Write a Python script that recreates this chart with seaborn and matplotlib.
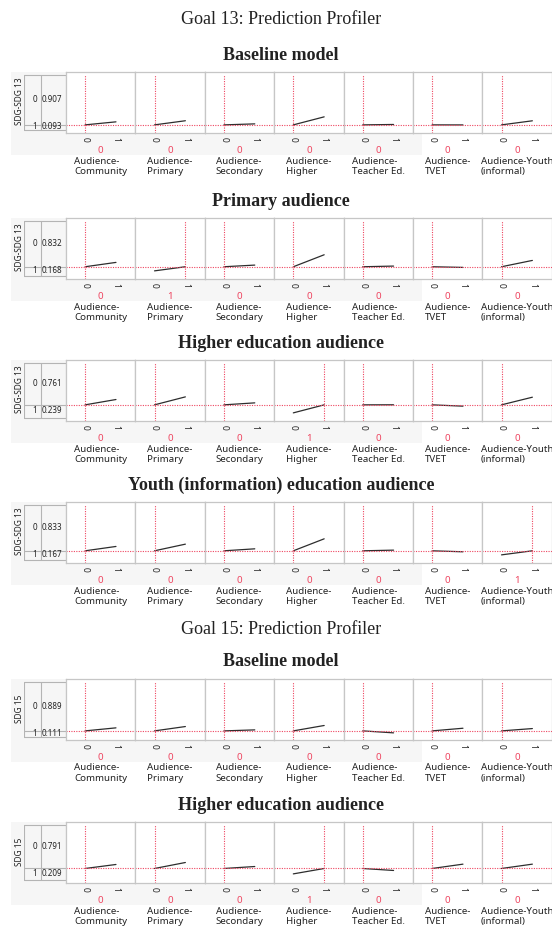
import matplotlib
matplotlib.use("Agg")
import matplotlib.pyplot as plt
from matplotlib.patches import Rectangle
import seaborn as sns
import pandas as pd

# factor names under each profiler cell
factors = [
    "Audience-\nCommunity",
    "Audience-\nPrimary",
    "Audience-\nSecondary",
    "Audience-\nHigher",
    "Audience-\nTeacher Ed.",
    "Audience-\nTVET",
    "Audience-Youth\n(informal)",
]

# Goal 13, baseline model
g13_base_setting = [0, 0, 0, 0, 0, 0, 0]
g13_base_p0 = [0.093, 0.093, 0.093, 0.093, 0.093, 0.093, 0.093]
g13_base_p1 = [0.148, 0.168, 0.111, 0.239, 0.100, 0.092, 0.167]
g13_base_table = [0.907, 0.093]

# Goal 13, primary audience
g13_prim_setting = [0, 1, 0, 0, 0, 0, 0]
g13_prim_p0 = [0.168, 0.093, 0.168, 0.168, 0.168, 0.168, 0.168]
g13_prim_p1 = [0.247, 0.168, 0.198, 0.386, 0.180, 0.156, 0.283]
g13_prim_table = [0.832, 0.168]

# Goal 13, higher education audience
g13_high_setting = [0, 0, 0, 1, 0, 0, 0]
g13_high_p0 = [0.239, 0.239, 0.239, 0.093, 0.239, 0.239, 0.239]
g13_high_p1 = [0.336, 0.384, 0.275, 0.239, 0.240, 0.215, 0.378]
g13_high_table = [0.761, 0.239]

# Goal 13, youth education audience
g13_youth_setting = [0, 0, 0, 0, 0, 0, 1]
g13_youth_p0 = [0.167, 0.167, 0.167, 0.167, 0.167, 0.167, 0.093]
g13_youth_p1 = [0.246, 0.288, 0.203, 0.385, 0.179, 0.149, 0.167]
g13_youth_table = [0.833, 0.167]

# Goal 15, baseline model
g15_base_setting = [0, 0, 0, 0, 0, 0, 0]
g15_base_p0 = [0.111, 0.111, 0.111, 0.111, 0.111, 0.111, 0.111]
g15_base_p1 = [0.166, 0.190, 0.129, 0.209, 0.075, 0.159, 0.153]
g15_base_table = [0.889, 0.111]

# Goal 15, higher education audience
g15_high_setting = [0, 0, 0, 1, 0, 0, 0]
g15_high_p0 = [0.209, 0.209, 0.209, 0.111, 0.209, 0.209, 0.209]
g15_high_p1 = [0.282, 0.318, 0.245, 0.209, 0.173, 0.288, 0.288]
g15_high_table = [0.791, 0.209]

W, H = 552, 927
RED = "#ee4560"
FRAME = "#c6c6c6"
TXT = "#222222"

sns.set_style("white")
plt.rcParams["font.family"] = ["Noto Sans", "DejaVu Sans"]

fig = plt.figure(figsize=(W / 100, H / 100), dpi=100)


def fx(x):
    return x / W


def fy(y):
    return 1 - y / H


def rect(x0, y0, w, h):
    return [x0 / W, 1 - (y0 + h) / H, w / W, h / H]


def heading(text, y, bold=False):
    fig.text(fx(281), fy(y), text, ha="center", va="center",
             family="Liberation Serif", fontsize=13,
             fontweight="bold" if bold else "normal", color=TXT)


PANEL_X0 = 66
PANEL_W = 69.4
PANEL_H = 61
YLIM = (-0.055, 1.055)


def profiler(top, title, response, setting, p0, p1, table):
    heading(title, top - 17, bold=True)
    bottom = top + PANEL_H
    level = table[1]

    # light grey backdrop behind the left part of the profiler
    fig.add_artist(Rectangle((fx(11), fy(bottom + 22)), fx(422 - 11),
                             (bottom + 22 - top) / H, transform=fig.transFigure,
                             facecolor="#f6f6f6", edgecolor="none", zorder=-5))

    # probability table on the left
    tab = fig.add_axes(rect(24, top, PANEL_X0 - 24, PANEL_H))
    tab.set_xlim(24, PANEL_X0)
    tab.set_ylim(*YLIM)
    tab.axis("off")
    tab.patch.set_alpha(0)
    tab.plot([24, PANEL_X0, PANEL_X0, 24, 24], [0, 0, 1, 1, 0], color="#b4b4b4", lw=0.8)
    tab.plot([41, 41], [0, 1], color="#b4b4b4", lw=0.8)
    tab.plot([24, PANEL_X0], [level, level], color="#b4b4b4", lw=0.8)
    for lab, val, yy in [("0", table[0], (1 + level) / 2), ("1", table[1], level / 2 + 0.01)]:
        tab.text(37, yy, lab, ha="right", va="center", fontsize=5.8, color=TXT)
        tab.text(42, yy, f"{val:.3f}", ha="left", va="center", fontsize=5.8, color=TXT)
    fig.text(fx(19), fy(top + PANEL_H / 2 - 1), response, rotation=90,
             ha="center", va="center", fontsize=6, color=TXT)

    for i in range(len(factors)):
        x0 = PANEL_X0 + i * PANEL_W
        ax = fig.add_axes(rect(x0, top, PANEL_W, PANEL_H))
        ax.set_facecolor("white")
        df = pd.DataFrame({"x": [0, 1], "p": [p0[i], p1[i]]})
        sns.lineplot(data=df, x="x", y="p", ax=ax, color="#2d2d2d", lw=0.9)
        ax.axhline(level, color=RED, ls=(0, (1, 1.2)), lw=0.8)
        ax.plot([setting[i], setting[i]], [YLIM[0], 1.0], color=RED,
                ls=(0, (1, 1.2)), lw=0.8)
        ax.set_xlim(-0.62, 1.63)
        ax.set_ylim(*YLIM)
        ax.set_xticks([0, 1])
        ax.set_xticklabels(["0", "1"], rotation=-90, fontsize=6, color=TXT)
        ax.set_yticks([])
        ax.tick_params(axis="x", length=1.5, width=0.6, color="#999999", pad=1.5)
        ax.set_xlabel("")
        ax.set_ylabel("")
        for s in ax.spines.values():
            s.set_color(FRAME)
            s.set_linewidth(0.9)
        cx = x0 + PANEL_W / 2
        fig.text(fx(cx), fy(bottom + 17.5), str(setting[i]), ha="center", va="center",
                 fontsize=7, color=RED)
        fig.text(fx(cx), fy(bottom + 23.5), factors[i], ha="center", va="top",
                 multialignment="left", fontsize=7, linespacing=1.15, color=TXT)


heading("Goal 13: Prediction Profiler", 19)
profiler(72, "Baseline model", "SDG-SDG 13", g13_base_setting, g13_base_p0, g13_base_p1, g13_base_table)
profiler(218, "Primary audience", "SDG-SDG 13", g13_prim_setting, g13_prim_p0, g13_prim_p1, g13_prim_table)
profiler(360, "Higher education audience", "SDG-SDG 13", g13_high_setting, g13_high_p0, g13_high_p1, g13_high_table)
profiler(502, "Youth (information) education audience", "SDG-SDG 13", g13_youth_setting, g13_youth_p0, g13_youth_p1, g13_youth_table)

heading("Goal 15: Prediction Profiler", 629)
profiler(679, "Baseline model", "SDG 15", g15_base_setting, g15_base_p0, g15_base_p1, g15_base_table)
profiler(822, "Higher education audience", "SDG 15", g15_high_setting, g15_high_p0, g15_high_p1, g15_high_table)

fig.savefig("out.png", dpi=100, facecolor="white")
